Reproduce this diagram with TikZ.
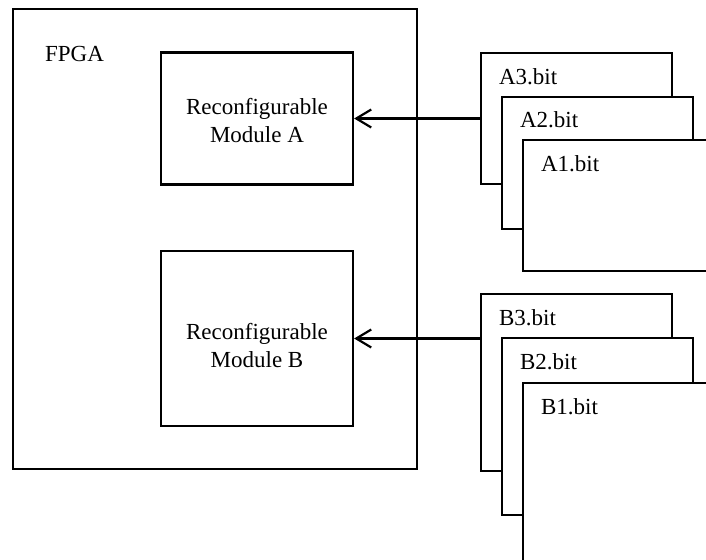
\documentclass[tikz,border=0pt]{standalone}
\usepackage{fontspec}
\setmainfont{Liberation Serif}
\usetikzlibrary{arrows.meta}
\begin{document}
\begin{tikzpicture}[x=1pt,y=-1pt,
  box/.style={draw,line width=2.2pt,fill=white,rectangle,inner sep=0pt},
  txt/.style={font=\fontsize{23}{28}\selectfont,inner sep=0pt},
  arr/.style={draw,line width=2.2pt,-{Straight Barb[length=15pt,width=18pt]}}]
\useasboundingbox (0,0) rectangle (706,559);
\clip (0,0) rectangle (706,559);
\fill[white] (0,0) rectangle (706,559);
% FPGA
\node[box,minimum width=404pt,minimum height=460pt] (fpga) at (215,239) {};
\node[txt,anchor=base west] (fpgalbl) at ([xshift=33pt,yshift=-54pt]fpga.north west) {FPGA};
% modules
\node[box,minimum width=192pt,minimum height=132pt] (modA) at (257,118.5) {};
\node[txt,align=center] (modAtxt) at ([yshift=-2pt]modA.center) {Reconfigurable\\Module A};
\node[box,minimum width=192pt,minimum height=175pt] (modB) at (257,338.5) {};
\node[txt,align=center] (modBtxt) at ([yshift=-7pt]modB.center) {Reconfigurable\\Module B};
% A bitstreams
\node[box,minimum width=191pt,minimum height=131pt] (A3) at (576.5,118.5) {};
\node[txt,anchor=base west] (A3l) at ([xshift=19pt,yshift=-33pt]A3.north west) {A3.bit};
\node[box,minimum width=191pt,minimum height=132pt] (A2) at (597.5,163) {};
\node[txt,anchor=base west] (A2l) at ([xshift=19pt,yshift=-32pt]A2.north west) {A2.bit};
\node[box,minimum width=191pt,minimum height=131pt] (A1) at (618.5,205.5) {};
\node[txt,anchor=base west] (A1l) at ([xshift=19pt,yshift=-33pt]A1.north west) {A1.bit};
% B bitstreams
\node[box,minimum width=191pt,minimum height=177pt] (B3) at (576.5,382.5) {};
\node[txt,anchor=base west] (B3l) at ([xshift=19pt,yshift=-33pt]B3.north west) {B3.bit};
\node[box,minimum width=191pt,minimum height=177pt] (B2) at (597.5,426.5) {};
\node[txt,anchor=base west] (B2l) at ([xshift=19pt,yshift=-33pt]B2.north west) {B2.bit};
\node[box,minimum width=191pt,minimum height=200pt] (B1) at (618.5,483) {};
\node[txt,anchor=base west] (B1l) at ([xshift=19pt,yshift=-33pt]B1.north west) {B1.bit};
% arrows
\draw[arr] (modA.east -| A3.west) -- (modA.east);
\draw[arr] (modB.east -| B3.west) -- (modB.east);
\end{tikzpicture}
\end{document}
